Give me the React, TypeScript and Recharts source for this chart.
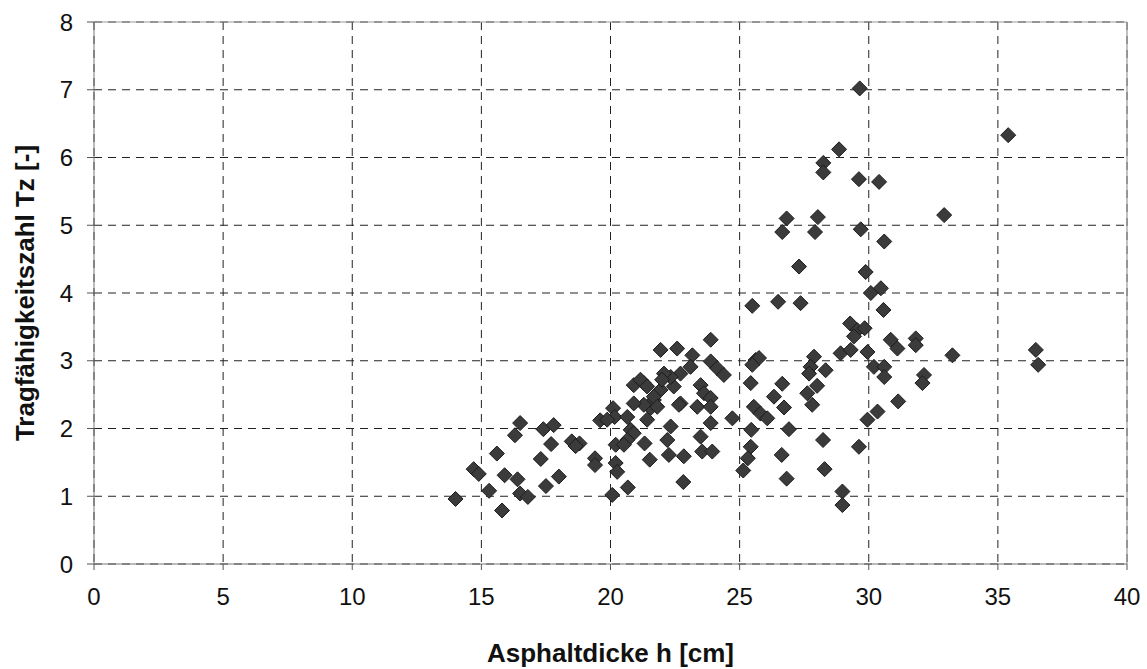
import React from 'react';
import {
  ScatterChart,
  Scatter,
  XAxis,
  YAxis,
  CartesianGrid,
  ReferenceLine,
} from 'recharts';

// Asphalt thickness h [cm]
const hValues: number[] = [
  14.0, 14.7, 14.9, 15.3, 15.6, 15.8, 15.9, 16.4, 16.5, 16.8,
  16.3, 16.5, 17.3, 17.5, 17.4, 17.8, 17.7, 18.0, 18.5, 18.8,
  18.65, 19.4, 19.4, 19.6, 20.07, 20.67, 20.2, 20.26, 20.2, 20.1,
  20.16, 20.65, 20.78, 20.9, 20.65, 20.52, 21.32, 21.52, 22.26, 22.2,
  22.33, 21.94, 21.55, 21.42, 20.9, 21.29, 21.68, 22.45, 22.71, 21.94,
  22.58, 23.17, 23.88, 23.88, 24.13, 24.39, 23.1, 22.71, 22.33, 22.07,
  22.0, 21.16, 21.42, 23.49, 23.62, 23.88, 22.65, 23.36, 23.88, 21.68,
  21.81, 21.29, 20.9, 19.87, 24.72, 23.88, 22.84, 23.49, 23.55, 23.94,
  22.82, 25.43, 26.65, 27.62, 28.0, 27.81, 26.33, 26.72, 25.55, 25.81,
  26.07, 25.45, 26.91, 28.23, 29.62, 25.43, 25.32, 25.14, 26.63, 26.82,
  28.29, 28.98, 28.98, 29.95, 30.34, 31.14, 25.62, 25.75, 25.49, 27.88,
  27.75, 27.69, 28.33, 25.49, 26.49, 27.36, 30.08, 30.47, 30.57, 29.28,
  29.56, 29.84, 29.43, 28.91, 29.3, 29.95, 30.85, 31.11, 30.2, 30.6,
  30.6, 31.82, 31.82, 33.24, 36.47, 36.56, 32.14, 32.08, 30.4, 32.92,
  30.6, 29.65, 28.85, 28.24, 28.24, 29.62, 26.82, 26.65, 28.03, 27.92,
  29.69, 27.3, 29.88, 35.4,
];

// Bearing capacity number Tz [-]
const tzValues: number[] = [
  0.96, 1.40, 1.33, 1.08, 1.63, 0.79, 1.31, 1.25, 1.04, 0.99,
  1.90, 2.08, 1.55, 1.15, 1.99, 2.05, 1.77, 1.29, 1.81, 1.78,
  1.74, 1.56, 1.46, 2.12, 1.02, 1.13, 1.49, 1.36, 1.76, 2.30,
  2.17, 2.17, 1.98, 1.93, 1.83, 1.76, 1.78, 1.54, 1.61, 1.83,
  2.03, 2.57, 2.30, 2.13, 2.64, 2.67, 2.42, 2.62, 2.37, 3.16,
  3.18, 3.08, 3.31, 2.99, 2.89, 2.79, 2.91, 2.81, 2.76, 2.81,
  2.72, 2.72, 2.62, 2.64, 2.52, 2.45, 2.35, 2.32, 2.08, 2.47,
  2.32, 2.35, 2.37, 2.13, 2.15, 2.32, 1.59, 1.88, 1.66, 1.66,
  1.21, 2.67, 2.66, 2.52, 2.63, 2.35, 2.47, 2.31, 2.32, 2.22,
  2.15, 1.98, 1.99, 1.83, 1.73, 1.73, 1.56, 1.38, 1.61, 1.26,
  1.40, 1.07, 0.87, 2.13, 2.25, 2.40, 3.01, 3.04, 2.94, 3.06,
  2.91, 2.81, 2.86, 3.81, 3.87, 3.85, 4.00, 4.07, 3.75, 3.55,
  3.45, 3.48, 3.36, 3.11, 3.16, 3.13, 3.31, 3.18, 2.91, 2.91,
  2.76, 3.33, 3.23, 3.08, 3.16, 2.94, 2.79, 2.67, 5.64, 5.15,
  4.76, 7.02, 6.12, 5.92, 5.78, 5.68, 5.10, 4.90, 5.12, 4.90,
  4.94, 4.39, 4.31, 6.33,
];

const xTicks: number[] = [0, 5, 10, 15, 20, 25, 30, 35, 40];
const yTicks: number[] = [0, 1, 2, 3, 4, 5, 6, 7, 8];

const data = hValues.map((h, i) => ({ h, tz: tzValues[i] }));

const FONT = '"Liberation Sans", Arial, sans-serif';

const Diamond = (props: any) => {
  const { cx, cy } = props;
  if (cx == null || cy == null) return null;
  const r = 7.5;
  return (
    <polygon
      points={`${cx},${cy - r} ${cx + r},${cy} ${cx},${cy + r} ${cx - r},${cy}`}
      fill="#3b3b3b"
      stroke="#1c1c1c"
      strokeWidth={1}
    />
  );
};

const XTitle = (props: any) => {
  const vb = props.viewBox || {};
  return (
    <text
      x={vb.x + vb.width / 2}
      y={vb.y + 98}
      textAnchor="middle"
      fontFamily={FONT}
      fontWeight="bold"
      fontSize={26}
      fill="#111"
    >
      Asphaltdicke h [cm]
    </text>
  );
};

const YTitle = (props: any) => {
  const vb = props.viewBox || {};
  const x = vb.x + 34;
  const y = vb.y + vb.height / 2;
  return (
    <text
      x={x}
      y={y}
      transform={`rotate(-90 ${x} ${y})`}
      textAnchor="middle"
      fontFamily={FONT}
      fontWeight="bold"
      fontSize={26}
      fill="#111"
    >
      Tragfähigkeitszahl Tz [-]
    </text>
  );
};

export default function App() {
  return (
    <div style={{ position: 'absolute', left: 0, top: 0, background: '#fff' }}>
      <ScatterChart
        width={1147}
        height={669}
        margin={{ top: 22, right: 20, bottom: 0, left: 0 }}
      >
        <CartesianGrid
          stroke="#222"
          strokeDasharray="8 6"
          strokeWidth={1}
          horizontalValues={yTicks}
          verticalValues={xTicks}
        />
        <XAxis
          type="number"
          dataKey="h"
          domain={[0, 40]}
          ticks={xTicks}
          interval={0}
          height={105}
          tickSize={6}
          tickMargin={18}
          axisLine={{ stroke: '#777' }}
          tickLine={{ stroke: '#555' }}
          tick={{ fontFamily: FONT, fontSize: 24, fill: '#111' }}
          label={<XTitle />}
        />
        <YAxis
          type="number"
          dataKey="tz"
          domain={[0, 8]}
          ticks={yTicks}
          interval={0}
          width={94}
          tickSize={7}
          tickMargin={14}
          axisLine={{ stroke: '#777' }}
          tickLine={{ stroke: '#555' }}
          tick={{ fontFamily: FONT, fontSize: 24, fill: '#111' }}
          label={<YTitle />}
        />
        <ReferenceLine y={8} stroke="#999" strokeWidth={1.2} />
        <ReferenceLine x={40} stroke="#999" strokeWidth={1.2} />
        <Scatter data={data} shape={<Diamond />} isAnimationActive={false} />
      </ScatterChart>
    </div>
  );
}
